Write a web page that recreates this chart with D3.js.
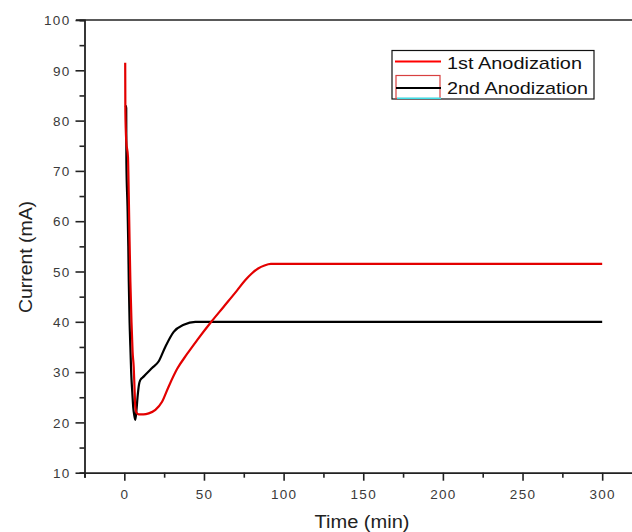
<!DOCTYPE html>
<html><head><meta charset="utf-8">
<script src="https://cdn.jsdelivr.net/npm/d3@7"></script>
<style>
html,body{margin:0;padding:0;background:#fff;}
svg{display:block;font-family:"Liberation Sans",Arial,sans-serif;}
</style></head>
<body><svg id="c" width="632" height="532"></svg>
<script>
// ---- data ----
const seriesNames = ["1st Anodization", "2nd Anodization"];
const time1 = [0.55, 0.65, 1.2, 2.3, 2.8, 3.3, 3.8, 4.5, 5.2, 5.9, 6.5, 6.9, 7.9, 9, 12, 15.3, 19.5, 23.7, 27.8, 33.1, 39.4, 45.6, 54.6, 62.4, 70.7, 76, 80, 84, 88, 92, 100, 150, 200, 250, 300];
const current1 = [91.5, 82, 76, 72.7, 65, 56, 48, 40, 34, 31, 26, 23, 21.8, 21.6, 21.6, 21.8, 22.5, 24.1, 27.1, 30.6, 33.6, 36.3, 40.0, 43.0, 46.2, 48.3, 49.6, 50.6, 51.2, 51.5, 51.5, 51.5, 51.5, 51.5, 51.5];
const time2 = [0.8, 1.2, 1.3, 2.0, 2.5, 2.8, 3.3, 3.8, 4.3, 5.0, 5.6, 6.2, 6.9, 7.5, 8.3, 9.2, 10, 12.1, 17.4, 21.5, 25.7, 31, 37.3, 44.6, 50, 100, 150, 200, 250, 300];
const current2 = [83, 82.5, 71.6, 63, 55, 48, 40, 35, 30, 26, 23, 21.5, 20.5, 22, 25, 27.5, 28.4, 29.1, 30.8, 32.1, 35.0, 38.0, 39.4, 40.0, 40, 40, 40, 40, 40, 40];
const xTicks = [0, 50, 100, 150, 200, 250, 300];
const xMinor = [-25, 25, 75, 125, 175, 225, 275, 325];
const yTicks = [10, 20, 30, 40, 50, 60, 70, 80, 90, 100];
const yMinor = [15, 25, 35, 45, 55, 65, 75, 85, 95];
const xTitle = "Time (min)";
const yTitle = "Current (mA)";

const svg = d3.select("#c");
const x = d3.scaleLinear().domain([-25, 325]).range([84.5, 642]);
const y = d3.scaleLinear().domain([10, 100]).range([472.7, 20]);
const axisCol = "#222";
const labCol = "#3a3a3a";

// top frame line
svg.append("line").attr("x1", 76).attr("x2", 632).attr("y1", y(100)).attr("y2", y(100))
  .attr("stroke", axisCol).attr("stroke-width", 1.6);

// y axis
const gy = svg.append("g").attr("transform", `translate(${x(-25)},0)`);
gy.call(d3.axisLeft(y).tickValues(yTicks).tickSize(9).tickPadding(5).tickFormat(d3.format("d")));
gy.append("g").call(d3.axisLeft(y).tickValues(yMinor).tickSize(5).tickFormat(""));
// x axis
const gx = svg.append("g").attr("transform", `translate(0,${y(10)})`);
gx.call(d3.axisBottom(x).tickValues(xTicks).tickSize(8).tickPadding(9).tickFormat(d3.format("d")));
gx.append("g").call(d3.axisBottom(x).tickValues(xMinor).tickSize(5).tickFormat(""));

svg.selectAll(".domain").attr("stroke", axisCol).attr("stroke-width", 1.8);
svg.selectAll(".tick line").attr("stroke", axisCol).attr("stroke-width", 1.6);
svg.selectAll(".tick text").attr("fill", labCol).style("font-size", "13.5px").style("letter-spacing", "1.3px");
gy.select("g .domain").remove();
gx.select("g .domain").remove();
gy.selectAll(".tick text").attr("dy", "0.35em");

// axis titles
svg.append("text").attr("x", 362).attr("y", 528).attr("text-anchor", "middle")
  .attr("fill", "#222").style("font-size", "18px")
  .attr("textLength", 95).attr("lengthAdjust", "spacingAndGlyphs").text(xTitle);
svg.append("text").attr("transform", "translate(32,257) rotate(-90)").attr("text-anchor", "middle")
  .attr("fill", "#222").style("font-size", "18px")
  .attr("textLength", 112).attr("lengthAdjust", "spacingAndGlyphs").text(yTitle);

// lines
const line = d3.line().x(d => x(d[0])).y(d => y(d[1])).curve(d3.curveMonotoneX);
const d1 = time1.map((t, i) => [t, current1[i]]);
const d2 = time2.map((t, i) => [t, current2[i]]);
svg.append("path").datum(d2).attr("d", line).attr("fill", "none").attr("stroke", "#000").attr("stroke-width", 2.2).attr("stroke-linejoin", "round");
svg.append("path").datum(d1).attr("d", line).attr("fill", "none").attr("stroke", "#e30000").attr("stroke-width", 2.2).attr("stroke-linejoin", "round");

// legend
const lg = svg.append("g");
lg.append("rect").attr("x", 392).attr("y", 50.5).attr("width", 202).attr("height", 48.5)
  .attr("fill", "#fff").attr("stroke", "#111").attr("stroke-width", 1.2);
lg.append("line").attr("x1", 395).attr("x2", 441).attr("y1", 61.5).attr("y2", 61.5).attr("stroke", "#ff0000").attr("stroke-width", 2.2);
lg.append("rect").attr("x", 396).attr("y", 75.5).attr("width", 44).attr("height", 23).attr("fill", "none").attr("stroke", "#d84040").attr("stroke-width", 1.2);
lg.append("line").attr("x1", 396).attr("x2", 441).attr("y1", 88).attr("y2", 88).attr("stroke", "#000").attr("stroke-width", 2.2);
lg.append("line").attr("x1", 397).attr("x2", 441).attr("y1", 98.3).attr("y2", 98.3).attr("stroke", "#40e0e8").attr("stroke-width", 1.6);
lg.append("text").attr("x", 447).attr("y", 69).attr("fill", "#111").style("font-size", "17px")
  .attr("textLength", 135).attr("lengthAdjust", "spacingAndGlyphs").text(seriesNames[0]);
lg.append("text").attr("x", 447).attr("y", 94).attr("fill", "#111").style("font-size", "17px")
  .attr("textLength", 141).attr("lengthAdjust", "spacingAndGlyphs").text(seriesNames[1]);
</script></body></html>
